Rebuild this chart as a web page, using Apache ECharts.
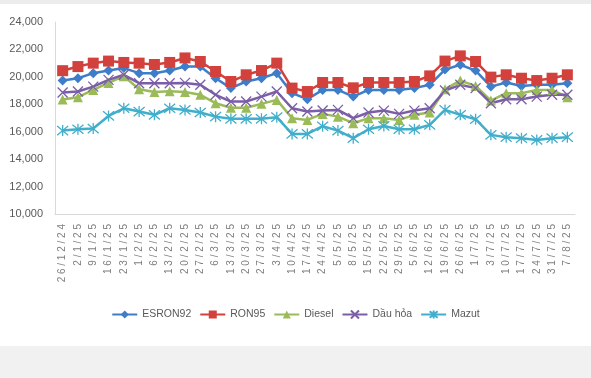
<!DOCTYPE html>
<html><head><meta charset="utf-8">
<script src="https://cdn.jsdelivr.net/npm/echarts@6/dist/echarts.min.js"></script>
<style>
html,body{margin:0;padding:0;background:#ffffff;}
#bgTop{position:absolute;left:0;top:0;width:591px;height:4px;background:#ececec;}
#bgBot{position:absolute;left:0;top:346px;width:591px;height:32px;background:#f1f1f1;}
#chart{position:absolute;left:0;top:0;width:591px;height:378px;}
</style></head>
<body>
<div id="bgTop"></div><div id="bgBot"></div>
<div id="chart"></div>
<script>
const categories = ["26/12/24","2/1/25","9/1/25","16/1/25","23/1/25","1/2/25","6/2/25","13/2/25","20/2/25","27/2/25","6/3/25","13/3/25","20/3/25","27/3/25","3/4/25","10/4/25","17/4/25","24/4/25","5/5/25","8/5/25","15/5/25","22/5/25","29/5/25","5/6/25","12/6/25","19/6/25","26/6/25","1/7/25","3/7/25","10/7/25","17/7/25","24/7/25","31/7/25","7/8/25"];
const esron92 = [19730,19900,20270,20460,20640,20270,20270,20460,20750,20750,19900,19180,19660,19900,20270,18810,18370,19050,19050,18560,19050,19050,19050,19180,19420,20530,20880,20460,19290,19590,19340,19420,19420,19540];
const ron95 = [20450,20750,21000,21150,21050,21000,20900,21050,21380,21120,20390,19660,20150,20460,21000,19180,18930,19590,19590,19200,19590,19590,19590,19660,20070,21150,21530,21120,19980,20150,19900,19730,19900,20150];
const diesel = [18350,18520,19050,19560,20050,19100,18900,18950,18900,18690,18080,17750,17750,18030,18320,16990,16860,17300,17100,16620,16990,16990,16860,17230,17400,19100,19730,19340,18270,18810,18810,19050,19050,18520];
const dauhoa = [18860,18930,19290,19780,20150,19540,19540,19540,19560,19420,18690,18200,18200,18560,18930,17710,17470,17550,17590,16990,17400,17540,17300,17540,17710,19000,19420,19180,18080,18370,18370,18560,18690,18690];
const mazut = [16080,16180,16230,17150,17710,17470,17230,17710,17590,17400,17100,16940,16940,16940,17060,15840,15840,16400,16080,15530,16180,16420,16180,16180,16500,17590,17230,16910,15770,15600,15530,15400,15530,15600];
const yTicks = {min:10000, max:24000, interval:2000};

const xPath = 'path://M0,0L10,10M10,0L0,10';
const starPath = 'path://M0,0L10,10M10,0L0,10M5,-1L5,11';
function mk(name, data, color, symbol, size, bw){
  return {name, type:'line', data, symbol, symbolSize:size, showAllSymbol:true,
    lineStyle:{color, width:2.5}, itemStyle:{color, borderColor:color, borderWidth:bw},
    emphasis:{disabled:true}, animation:false};
}
const chart = echarts.init(document.getElementById('chart'), null, {renderer:'canvas'});
chart.setOption({
  backgroundColor:'transparent',
  textStyle:{fontFamily:'Liberation Sans'},
  grid:{left:55, right:16, top:22, bottom:164},
  legend:{left:'center', top:304, itemWidth:25, itemHeight:10, itemGap:8,
    textStyle:{color:'#595959', fontSize:10.5, fontFamily:'Liberation Sans'},
    data:['ESRON92','RON95','Diesel','Dầu hỏa','Mazut']},
  xAxis:{type:'category', data:categories, boundaryGap:true,
    axisLine:{lineStyle:{color:'#d9d9d9'}}, axisTick:{show:false},
    axisLabel:{rotate:90, interval:0, color:'#7f7f7f', fontSize:10, margin:10,
      formatter:v=>v.split('').join(' ')}},
  yAxis:{type:'value', min:yTicks.min, max:yTicks.max, interval:yTicks.interval,
    axisLine:{show:true, lineStyle:{color:'#d9d9d9'}}, axisTick:{show:false},
    splitLine:{show:false},
    axisLabel:{color:'#595959', fontSize:11, margin:12,
      formatter:v=>v.toLocaleString('en-US')}},
  series:[
    mk('ESRON92', esron92, '#3f7dc8', 'diamond', 10, 0),
    mk('RON95', ron95, '#d2413b', 'rect', 11, 0),
    mk('Diesel', diesel, '#9bbb59', 'triangle', 10, 0),
    mk('Dầu hỏa', dauhoa, '#7b5ea7', xPath, 10, 1.3),
    mk('Mazut', mazut, '#41aecb', starPath, 11, 1.3)
  ]
});
</script>
</body></html>
